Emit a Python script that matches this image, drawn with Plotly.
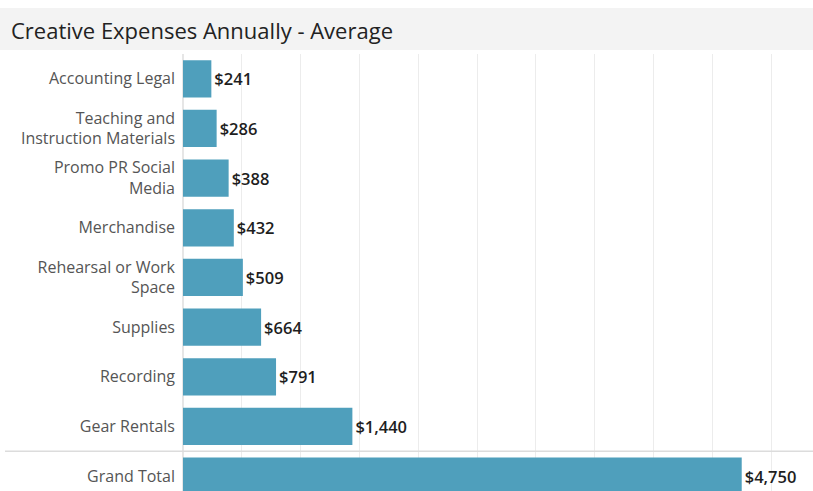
import plotly.graph_objects as go

categories = [
    "Accounting Legal",
    "Teaching and<br>Instruction Materials",
    "Promo PR Social<br>Media",
    "Merchandise",
    "Rehearsal or Work<br>Space",
    "Supplies",
    "Recording",
    "Gear Rentals",
    "Grand Total",
]
values = [241, 286, 388, 432, 509, 664, 791, 1440, 4750]
title_text = "Creative Expenses Annually - Average"

BAR = "#4f9fbc"
FONT = "'Open Sans', 'Noto Sans', sans-serif"

W, H = 813, 491
L, T = 183, 54
plot_w, plot_h = W - L, H - T

fig = go.Figure(
    go.Bar(
        x=values,
        y=categories,
        orientation="h",
        marker=dict(color=BAR, line=dict(width=0)),
        width=0.75,
        text=values,
        texttemplate="$%{x:,}",
        textposition="outside",
        textfont=dict(family=FONT, size=16.5, color="#1e1e1e", weight=600),
        cliponaxis=False,
    )
)

# title band
fig.add_shape(
    type="rect", xref="paper", yref="paper",
    x0=-L / plot_w, x1=1, y0=1 + (T - 50) / plot_h, y1=1 + (T - 8) / plot_h,
    fillcolor="#f3f3f3", line=dict(width=0), layer="below",
)
fig.add_annotation(
    text=title_text, xref="paper", yref="paper",
    x=(9 - L) / plot_w, y=1 + (T - 30) / plot_h,
    xanchor="left", yanchor="middle", showarrow=False,
    font=dict(family=FONT, size=22, color="#222222"),
)
# separator above grand total
fig.add_shape(
    type="line", xref="paper", yref="y",
    x0=(5 - L) / plot_w, x1=1, y0=7.5, y1=7.5,
    line=dict(color="#dcdcdc", width=1.5), layer="above",
)

fig.update_layout(
    width=W, height=H,
    margin=dict(l=L, r=0, t=T, b=0),
    paper_bgcolor="white", plot_bgcolor="white",
    showlegend=False,
    font=dict(family=FONT),
    xaxis=dict(
        range=[0, 5356], dtick=500, tick0=0,
        showgrid=True, gridcolor="#ececec", gridwidth=1,
        showticklabels=False, zeroline=True, zerolinecolor="#e6e6e6",
        showline=False, fixedrange=True,
    ),
    yaxis=dict(
        type="category",
        categoryorder="array", categoryarray=categories,
        range=[8.30, -0.5],
        showgrid=False, zeroline=False, showline=False,
        ticks="", ticklabelstandoff=7,
        tickfont=dict(family=FONT, size=16, color="#555555"),
    ),
)

fig.write_html("out.html")
